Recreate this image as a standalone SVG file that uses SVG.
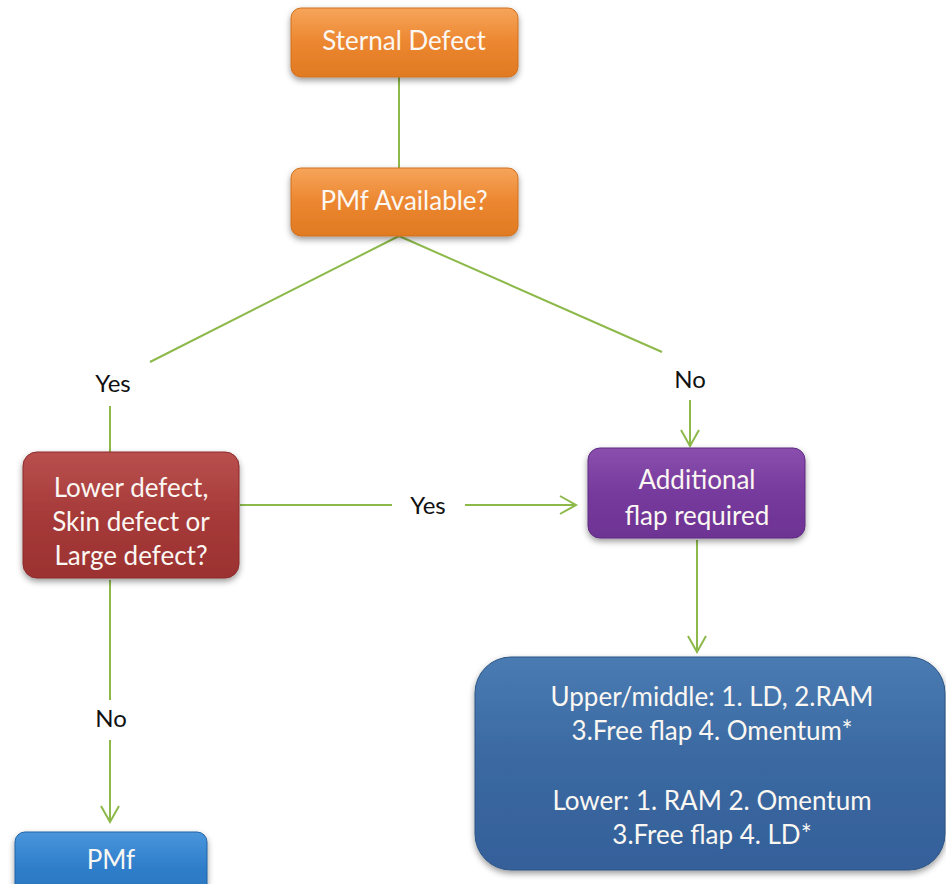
<svg xmlns="http://www.w3.org/2000/svg" width="946" height="884" viewBox="0 0 946 884">
<defs>
<style>
.t{font-family:Lato,"Open Sans",sans-serif;fill:#fbf7f2;text-anchor:middle;font-size:26px}
.l{font-family:Lato,"Open Sans",sans-serif;fill:#111;text-anchor:middle;font-size:24px}
.c{stroke:#8cb94a;stroke-width:2;fill:none}
</style>
<linearGradient id="gO" x1="0" y1="0" x2="0" y2="1"><stop offset="0" stop-color="#f6a55a"/><stop offset="0.5" stop-color="#ec8630"/><stop offset="1" stop-color="#e07a22"/></linearGradient>
<linearGradient id="gR" x1="0" y1="0" x2="0" y2="1"><stop offset="0" stop-color="#b9504f"/><stop offset="0.5" stop-color="#a63a39"/><stop offset="1" stop-color="#9c3231"/></linearGradient>
<linearGradient id="gP" x1="0" y1="0" x2="0" y2="1"><stop offset="0" stop-color="#8a4fae"/><stop offset="0.5" stop-color="#763a9d"/><stop offset="1" stop-color="#6d3393"/></linearGradient>
<linearGradient id="gB" x1="0" y1="0" x2="0" y2="1"><stop offset="0" stop-color="#4a7bb3"/><stop offset="0.5" stop-color="#3a68a0"/><stop offset="1" stop-color="#34609a"/></linearGradient>
<linearGradient id="gB2" x1="0" y1="0" x2="0" y2="1"><stop offset="0" stop-color="#4a96dc"/><stop offset="0.5" stop-color="#2f7ecb"/><stop offset="1" stop-color="#2a74bd"/></linearGradient>
<filter id="sh" x="-10%" y="-10%" width="120%" height="130%"><feDropShadow dx="0" dy="3" stdDeviation="3" flood-color="#000" flood-opacity="0.4"/></filter>
<marker id="ar" viewBox="0 0 20 20" refX="18" refY="10" markerWidth="20" markerHeight="20" markerUnits="userSpaceOnUse" orient="auto"><path d="M2,1 L18,10 L2,19" fill="none" stroke="#8cb94a" stroke-width="2"/></marker>
</defs>
<rect width="946" height="884" fill="#fff"/>
<g id="connectors">
<line class="c" x1="399" y1="77" x2="399" y2="168"/>
<line class="c" x1="399" y1="236" x2="150" y2="362"/>
<line class="c" x1="399" y1="236" x2="662" y2="352"/>
<line class="c" x1="110" y1="406" x2="110" y2="452"/>
<line class="c" x1="690" y1="400" x2="690" y2="446" marker-end="url(#ar)"/>
<line class="c" x1="240" y1="505" x2="392" y2="505"/>
<line class="c" x1="465" y1="505" x2="576" y2="505" marker-end="url(#ar)"/>
<line class="c" x1="697" y1="540" x2="697" y2="652" marker-end="url(#ar)"/>
<line class="c" x1="110" y1="580" x2="110" y2="700"/>
<line class="c" x1="110" y1="740" x2="110" y2="822" marker-end="url(#ar)"/>
<text class="l" x="113" y="392">Yes</text>
<text class="l" x="690" y="388">No</text>
<text class="l" x="428" y="514">Yes</text>
<text class="l" x="111" y="727">No</text>
</g>
<g id="sternal">
<rect x="291" y="8" width="227" height="69" rx="10" fill="url(#gO)" stroke="#d0701e" filter="url(#sh)"/>
<text class="t" x="404" y="50">Sternal Defect</text>
</g>
<g id="pmf-available">
<rect x="291" y="168" width="227" height="68" rx="10" fill="url(#gO)" stroke="#d0701e" filter="url(#sh)"/>
<text class="t" x="404" y="210">PMf Available?</text>
</g>
<g id="defect-question">
<rect x="23" y="452" width="216" height="126" rx="14" fill="url(#gR)" stroke="#8c2a2a" filter="url(#sh)"/>
<text class="t" x="131" y="497">Lower defect,</text>
<text class="t" x="131" y="531">Skin defect or</text>
<text class="t" x="131" y="565">Large defect?</text>
</g>
<g id="additional">
<rect x="588" y="448" width="217" height="90" rx="12" fill="url(#gP)" stroke="#5e2a80" filter="url(#sh)"/>
<text class="t" x="697" y="489">Additional</text>
<text class="t" x="697" y="525">flap required</text>
</g>
<g id="options">
<rect x="475" y="657" width="470" height="213" rx="36" fill="url(#gB)" stroke="#2c5585" filter="url(#sh)"/>
<text class="t" x="712" y="706">Upper/middle: 1. LD, 2.RAM</text>
<text class="t" x="712" y="740">3.Free flap 4. Omentum*</text>
<text class="t" x="712" y="810">Lower: 1. RAM 2. Omentum</text>
<text class="t" x="712" y="844">3.Free flap 4. LD*</text>
</g>
<g id="pmf">
<rect x="15" y="832" width="192" height="70" rx="10" fill="url(#gB2)" stroke="#2263a6" filter="url(#sh)"/>
<text class="t" x="111" y="869">PMf</text>
</g>
</svg>
